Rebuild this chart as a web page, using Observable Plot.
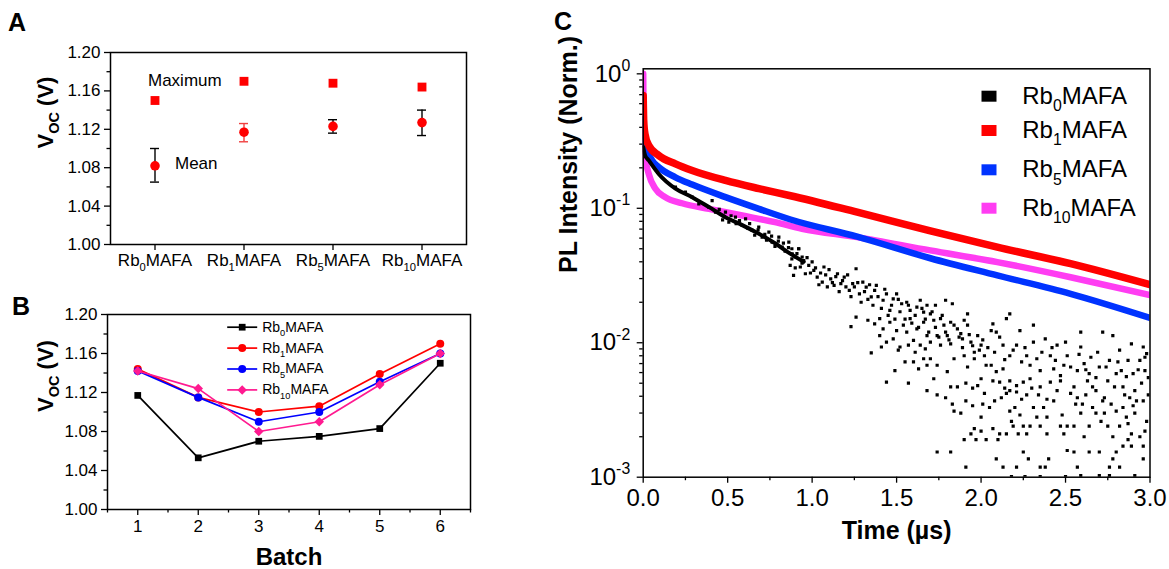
<!DOCTYPE html>
<html><head><meta charset="utf-8">
<script src="https://cdn.jsdelivr.net/npm/d3@7"></script>
<script src="https://cdn.jsdelivr.net/npm/@observablehq/plot@0.6"></script>
<style>
body{margin:0;background:#fff;}
#fig{position:relative;width:1169px;height:569px;overflow:hidden;font-family:"Liberation Sans",Arial,sans-serif;background:#fff;}
#fig svg{position:absolute;}
.letter{position:absolute;font-weight:bold;font-size:25px;line-height:25px;color:#000;}
</style></head><body><div id="fig"></div>
<script>
// ---------- data ----------
const samples = ["Rb0MAFA","Rb1MAFA","Rb5MAFA","Rb10MAFA"];
const vocMax  = [1.150, 1.170, 1.168, 1.164];
const vocMean = [1.082, 1.117, 1.123, 1.127];
const vocLow  = [1.065, 1.107, 1.116, 1.1135];
const vocHigh = [1.100, 1.126, 1.130, 1.140];
const vocTicks = [1.00, 1.04, 1.08, 1.12, 1.16, 1.20];
const vocMinor = [1.02, 1.06, 1.10, 1.14, 1.18];

const batches = [1, 2, 3, 4, 5, 6];
const batchMinor = [0.5, 1.5, 2.5, 3.5, 4.5, 5.5, 6.5];
const vocBatchRb0  = [1.117, 1.053, 1.070, 1.075, 1.083, 1.150];
const vocBatchRb1  = [1.144, 1.115, 1.100, 1.106, 1.139, 1.170];
const vocBatchRb5  = [1.142, 1.115, 1.090, 1.100, 1.131, 1.160];
const vocBatchRb10 = [1.142, 1.124, 1.080, 1.090, 1.128, 1.160];

const timeTicks = [0, 0.5, 1.0, 1.5, 2.0, 2.5, 3.0];
const timeMinor = [0.25, 0.75, 1.25, 1.75, 2.25, 2.75];
const plTicks = [0.001, 0.01, 0.1, 1];

// PL decays [time (µs), normalized intensity]
const plRb1 = [[0,0.69],[0.003,0.45],[0.01,0.36],[0.033,0.293],[0.092,0.247],[0.191,0.214],[0.29,0.191],[0.487,0.161],[0.685,0.140],[0.872,0.124],[1.267,0.0935],[1.70,0.068],[2.096,0.0514],[2.53,0.0387],[3.0,0.027]];
const plRb5 = [[0,0.46],[0.004,0.319],[0.053,0.227],[0.092,0.202],[0.191,0.170],[0.29,0.150],[0.487,0.121],[0.685,0.099],[0.872,0.0825],[1.267,0.0615],[1.70,0.0425],[2.096,0.0317],[2.53,0.0231],[3.0,0.0153]];
const plRb10 = [[0,1.0],[0.002,0.5],[0.008,0.26],[0.033,0.18],[0.072,0.14],[0.13,0.121],[0.23,0.109],[0.39,0.099],[0.586,0.0884],[0.78,0.0788],[0.94,0.0705],[1.267,0.061],[1.70,0.0486],[2.096,0.0398],[2.53,0.0307],[3.0,0.0226]];
const plRb0Band = [[0,0.285],[0.01,0.25],[0.033,0.227],[0.092,0.18],[0.191,0.14],[0.29,0.121],[0.39,0.102],[0.487,0.0859],[0.586,0.075],[0.685,0.0646],[0.78,0.055],[0.87,0.046],[0.95,0.040]];
const plRb0Dots = [
 [0.487,0.0936],[0.507,0.0789],[0.546,0.0859],[0.586,0.0745],[0.606,0.0835],[0.645,0.0684],[0.684,0.0724],[0.704,0.061],[0.744,0.0665],[0.763,0.056],[0.803,0.061],[0.823,0.0514],[0.862,0.056],[0.882,0.0459],[0.921,0.050],[0.941,0.0434],[0.388,0.102],[0.408,0.114],[0.428,0.0936],[0.29,0.121],[0.329,0.108],[0.191,0.144],[0.25,0.132],
 [0.45,0.098],[0.47,0.082],[0.52,0.088],[0.55,0.077],[0.57,0.081],[0.62,0.071],[0.63,0.077],[0.66,0.063],[0.68,0.069],[0.72,0.064],[0.73,0.058],[0.76,0.062],[0.78,0.052],[0.80,0.057],[0.83,0.055],[0.84,0.048],[0.86,0.051],[0.88,0.042],
 [0.88,0.050],[0.92,0.050],[0.90,0.0434],[0.95,0.0409],[0.87,0.0376],[0.93,0.0366],[0.98,0.0376],[0.89,0.0317],[0.96,0.0326],[1.01,0.0345],[1.03,0.0308],[1.07,0.0366],[1.06,0.0282],[1.11,0.0299],[1.15,0.0326],[1.13,0.0267],[1.17,0.0275],[1.19,0.0308],[1.22,0.0245],[1.26,0.0355],[1.24,0.0275],[1.28,0.0231],[1.30,0.0282],[1.32,0.0259],[1.35,0.0219],[1.37,0.0245],[1.38,0.0267],[1.42,0.0207],[1.44,0.0231],[1.46,0.0174],[1.48,0.0212],[1.50,0.0231],[1.53,0.0195],[1.56,0.0200],[1.58,0.0174],[1.62,0.0184],[1.64,0.0207],[1.66,0.0169],[1.68,0.0190],[1.70,0.0164],
 [0.90,0.036],[0.91,0.046],[0.94,0.039],[0.97,0.043],[0.99,0.033],[1.00,0.040],[1.02,0.036],[1.04,0.027],[1.05,0.033],[1.08,0.032],[1.09,0.026],[1.10,0.035],[1.12,0.028],[1.14,0.031],[1.16,0.024],[1.18,0.029],[1.20,0.026],[1.21,0.032],[1.23,0.022],[1.25,0.026],[1.27,0.028],[1.29,0.020],[1.31,0.024],[1.33,0.021],[1.34,0.027],[1.36,0.019],[1.39,0.022],[1.41,0.018],[1.43,0.025],[1.45,0.016],[1.47,0.019],[1.49,0.015],[1.51,0.021],[1.52,0.017],[1.55,0.015],[1.57,0.019],[1.59,0.014],[1.61,0.016],[1.63,0.013],[1.65,0.018],[1.67,0.015],[1.69,0.012],[1.71,0.017],[1.73,0.013],[1.75,0.011],[1.77,0.016],[1.79,0.012],[1.81,0.0105],[1.84,0.0135],[1.87,0.011],[1.89,0.0092],[1.93,0.0115],[1.95,0.0095],[1.99,0.0088],[2.01,0.0105],[2.04,0.0092],[2.08,0.0085],[2.11,0.011],[2.14,0.0075],[2.19,0.0088],[2.24,0.0072],[2.26,0.0092],[2.36,0.0085],[2.42,0.0092],[2.44,0.0074],[2.53,0.0066],[2.58,0.0082],[2.62,0.0063],[2.69,0.0085],[2.74,0.0066],[2.81,0.0072],[2.86,0.0056],[2.93,0.0063],[2.98,0.0083],
 [1.23,0.0132],[1.26,0.0155],[1.33,0.0147],[1.37,0.0138],[1.40,0.0151],[1.42,0.0127],[1.46,0.0142],[1.50,0.0123],[1.54,0.0135],[1.58,0.0151],[1.62,0.0127],[1.66,0.0142],[1.68,0.0113],[1.40,0.0113],[1.44,0.0101],[1.48,0.0107],[1.52,0.0093],[1.56,0.0120],[1.60,0.0104],[1.64,0.0096],[1.67,0.0090],[1.35,0.0084],[1.41,0.0093],[1.51,0.0088],[1.57,0.0096],[1.61,0.0085],[1.66,0.0076],[1.55,0.0072],[1.60,0.0072],[1.63,0.0064],[1.68,0.0068],[1.49,0.0062],[1.44,0.0051],[1.57,0.0050],[1.68,0.0044],
 [1.73,0.019],[1.79,0.0207],[1.83,0.0195],[1.92,0.0164],[2.17,0.0164],
 [1.72,0.0147],[1.76,0.0151],[1.78,0.0135],[1.82,0.0142],[1.86,0.0127],[1.90,0.0147],[1.92,0.0135],[1.88,0.0117],[1.80,0.0113],[1.74,0.0113],[1.70,0.0101],[1.76,0.0096],[1.82,0.0098],[1.89,0.0107],[1.94,0.0101],[1.98,0.0113],[2.00,0.0096],[1.96,0.0085],[2.02,0.0080],[2.06,0.0123],[2.09,0.0120],[2.13,0.0096],[2.06,0.0068],[2.03,0.0068],[2.09,0.0061],[2.13,0.0064],[2.17,0.0080],[2.21,0.0096],[2.23,0.0123],[2.27,0.0080],[2.29,0.0068],[2.31,0.0101],[2.33,0.0076],[2.35,0.0062],[2.38,0.0107],[2.41,0.0080],[2.43,0.0064],[2.45,0.0096],[2.47,0.0057],[2.49,0.0068],[2.51,0.0080],[2.50,0.0101],[2.31,0.0135],[2.15,0.0151],[2.07,0.0138],
 [1.70,0.0076],[1.74,0.0068],[1.80,0.0061],[1.84,0.0076],[1.92,0.0066],[1.96,0.0076],[1.90,0.0080],[1.72,0.0054],[1.82,0.0047],[1.86,0.0047],[1.91,0.0050],[1.98,0.0048],[2.00,0.0054],[2.07,0.0052],[2.11,0.0051],[2.17,0.0052],[2.21,0.0048],[2.25,0.0051],[2.29,0.0054],[2.35,0.0047],[2.41,0.0051],[2.47,0.0052],
 [1.74,0.0041],[1.79,0.0039],[1.83,0.0035],[1.91,0.0037],[1.95,0.0034],[2.01,0.0035],[2.05,0.0033],[2.17,0.0044],[2.12,0.0039],[2.15,0.0042],[2.21,0.0043],[2.27,0.0041],[2.34,0.0041],[2.39,0.0038],[2.45,0.0044],[1.84,0.0031],[1.88,0.0030],[2.00,0.0028],[2.17,0.0031],[2.23,0.0029],[2.31,0.0033],[2.33,0.0028],[2.39,0.0028],[2.48,0.0029],[2.51,0.0024],
 [1.95,0.0046],[2.02,0.0042],[2.08,0.0037],[2.14,0.0046],[2.20,0.0033],[2.24,0.0038],[2.30,0.0046],[2.37,0.0033],[2.43,0.0037],[2.53,0.0042],[2.56,0.0035],[2.62,0.0041],[2.68,0.0044],[2.73,0.0030],[2.77,0.0035],[2.85,0.0041],[2.92,0.0037],[2.99,0.0041],
 [1.74,0.00154],[1.82,0.00154],[1.94,0.0021],[2.00,0.0022],[1.96,0.0023],[2.07,0.0023],[2.11,0.0021],[1.90,0.0019],[1.97,0.0019],[2.03,0.0019],[2.10,0.0019],[2.18,0.0026],[2.19,0.0024],[2.25,0.0024],[2.29,0.0024],[2.35,0.0024],[2.47,0.0024],[2.15,0.0021],[2.22,0.0021],[2.27,0.0021],[2.39,0.0021],[2.49,0.0021],
 [1.91,0.00119],[2.09,0.00137],[2.13,0.00119],[2.21,0.00119],[2.25,0.00154],[2.28,0.00137],[2.35,0.00119],[2.38,0.00119],[2.40,0.00137],[2.51,0.00158],[2.18,0.00101],[2.26,0.00101],[2.35,0.00101],[2.50,0.00101],
 [2.55,0.0047],[2.59,0.0120],[2.61,0.0070],[2.64,0.0059],[2.66,0.0047],[2.68,0.0055],[2.72,0.0120],[2.73,0.0039],[2.75,0.0052],[2.78,0.0113],[2.80,0.0059],[2.82,0.0088],[2.84,0.0047],[2.87,0.0074],[2.89,0.0098],[2.91,0.0044],[2.94,0.0074],[2.96,0.0093],[2.97,0.0062],[2.99,0.0055],[2.59,0.0093],[2.65,0.0078],[2.70,0.0066],[2.76,0.0074],[2.83,0.0062],[2.90,0.0059],[2.95,0.0050],[2.57,0.0062],[2.63,0.0052],[2.79,0.0047],[2.88,0.0039],[2.97,0.0078],
 [2.55,0.0024],[2.57,0.0039],[2.59,0.0030],[2.61,0.0020],[2.64,0.0024],[2.68,0.0030],[2.72,0.0037],[2.75,0.0024],[2.78,0.0020],[2.82,0.0024],[2.84,0.0033],[2.87,0.0025],[2.89,0.0021],[2.91,0.0030],[2.94,0.0020],[2.96,0.0037],[2.98,0.0026],[2.60,0.0035],[2.66,0.0033],[2.71,0.0026],[2.80,0.0031],[2.86,0.0028],[2.90,0.0034],[2.97,0.0022],
 [2.55,0.00154],[2.64,0.00154],[2.70,0.00154],[2.80,0.00154],[2.78,0.00137],[2.96,0.00137],[2.57,0.00119],[2.76,0.00119],[2.70,0.00103],[2.76,0.00103],[2.91,0.00103],[2.84,0.0017],[2.89,0.0017],[2.87,0.0019],[2.82,0.00119],[2.59,0.00103],[2.96,0.0017]
];

// ---------- helpers ----------
const NS = "http://www.w3.org/2000/svg";
const FONT = '"Liberation Sans", Arial, Helvetica, sans-serif';
const rb = s => s.replace(/Rb(\d+)/, "Rb_{$1}");
const baseStyle = {fontFamily: FONT, fontSize: "17px", color: "#000", background: "transparent", overflow: "visible"};

function richify(root) {
  root.querySelectorAll("text").forEach(t => {
    const ts = t.querySelectorAll("tspan");
    const targets = ts.length ? [...ts] : [t];
    for (const el of targets) {
      const s = el.textContent;
      if (!/[_^]\{/.test(s)) continue;
      const fs = parseFloat(getComputedStyle(el).fontSize);
      while (el.firstChild) el.removeChild(el.firstChild);
      const re = /([_^])\{([^}]*)\}/g;
      let last = 0, m, cur = 0;
      const add = (str, kind) => {
        if (!str) return;
        const sp = document.createElementNS(NS, "tspan");
        sp.textContent = str;
        const target = kind === "_" ? 0.3 * fs : kind === "^" ? -0.45 * fs : 0;
        if (target !== cur) { sp.setAttribute("dy", (target - cur).toFixed(2)); cur = target; }
        if (kind) sp.setAttribute("font-size", (0.66 * fs).toFixed(2));
        el.appendChild(sp);
      };
      while ((m = re.exec(s))) { add(s.slice(last, m.index), null); add(m[2], m[1]); last = re.lastIndex; }
      add(s.slice(last), null);
    }
  });
}
const lineSym = {draw(ctx) { ctx.moveTo(-15, 0); ctx.lineTo(15, 0); }};
const rectSym = {draw(ctx) { ctx.rect(-7.5, -5.5, 15, 11); }};

const fig = document.getElementById("fig");
function place(svg, left, top) { svg.style.left = left + "px"; svg.style.top = top + "px"; fig.appendChild(svg); richify(svg); }

// ---------- Panel A ----------
const tableA = samples.map((s, i) => ({s, max: vocMax[i], mean: vocMean[i], lo: vocLow[i], hi: vocHigh[i]}));
const errStroke = {Rb0MAFA: "#000000", Rb1MAFA: "#f04040", Rb5MAFA: "#000000", Rb10MAFA: "#000000"};
const annotations = [{s: "Rb0MAFA", v: 1.1708, label: "Maximum", dx: -7}, {s: "Rb0MAFA", v: 1.0844, label: "Mean", dx: 20}];
const plotA = Plot.plot({
  width: 480, height: 280, marginLeft: 110, marginRight: 14, marginTop: 52, marginBottom: 36,
  style: baseStyle,
  x: {type: "band", domain: samples, padding: 0, axis: null},
  y: {domain: [1.0, 1.2], axis: null},
  marks: [
    Plot.axisY({ticks: vocTicks, tickFormat: d3.format(".2f"), tickSize: 6, tickPadding: 4, fontSize: 17, strokeWidth: 1.3, label: null}),
    Plot.axisY({ticks: vocMinor, tickFormat: () => "", tickSize: 3.5, strokeWidth: 1.3, label: null}),
    Plot.axisX({tickFormat: rb, tickSize: 6, tickPadding: 3, fontSize: 17, strokeWidth: 1.3, label: null}),
    Plot.ruleX(tableA, {x: "s", y1: "lo", y2: "hi", stroke: d => errStroke[d.s], strokeWidth: 1.4}),
    Plot.tickY(tableA, {x: "s", y: "lo", stroke: d => errStroke[d.s], strokeWidth: 1.4, insetLeft: 40, insetRight: 40}),
    Plot.tickY(tableA, {x: "s", y: "hi", stroke: d => errStroke[d.s], strokeWidth: 1.4, insetLeft: 40, insetRight: 40}),
    Plot.dot(tableA, {x: "s", y: "mean", r: 4.8, fill: "#ff0000"}),
    Plot.dot(tableA, {x: "s", y: "max", symbol: "square", r: 5, fill: "#ff0000"}),
    ...annotations.map(a => Plot.text([a], {x: "s", y: "v", text: "label", dx: a.dx, textAnchor: "start", fontSize: 17})),
    Plot.text(["V_{OC} (V)"], {frameAnchor: "left", lineAnchor: "middle", text: d => d, rotate: -90, dx: -65, fontSize: 22, fontWeight: "bold"}),
    Plot.frame({stroke: "#000", strokeWidth: 1.5})
  ]
});
place(plotA, 0, 0);

// ---------- Panel B ----------
const seriesB = [
  {s: "Rb0MAFA", values: vocBatchRb0, color: "#000000", symbol: "square", r: 3.8},
  {s: "Rb1MAFA", values: vocBatchRb1, color: "#ff0000", symbol: "circle", r: 4},
  {s: "Rb5MAFA", values: vocBatchRb5, color: "#0000ff", symbol: "circle", r: 4},
  {s: "Rb10MAFA", values: vocBatchRb10, color: "#ff1a90", symbol: "diamond2", r: 4.3}
];
const marksB = [];
seriesB.forEach((ser, i) => {
  const rows = batches.map((b, j) => ({batch: b, voc: ser.values[j]}));
  marksB.push(Plot.line(rows, {x: "batch", y: "voc", stroke: ser.color, strokeWidth: 1.7}));
  marksB.push(Plot.dot(rows, {x: "batch", y: "voc", symbol: ser.symbol, r: ser.r, fill: ser.color}));
  const dy = 12.7 + i * 20.9;
  marksB.push(Plot.dot([0], {frameAnchor: "top-left", dx: 134.7, dy, symbol: lineSym, fill: "none", stroke: ser.color, strokeWidth: 1.7}));
  marksB.push(Plot.dot([0], {frameAnchor: "top-left", dx: 134.7, dy, symbol: ser.symbol, r: ser.r, fill: ser.color}));
  marksB.push(Plot.text([rb(ser.s)], {frameAnchor: "top-left", lineAnchor: "middle", text: d => d, dx: 154.7, dy, textAnchor: "start", fontSize: 14}));
});
const plotB = Plot.plot({
  width: 480, height: 279, marginLeft: 107, marginRight: 10, marginTop: 24, marginBottom: 60,
  style: baseStyle,
  x: {domain: [0.5, 6.5], axis: null},
  y: {domain: [1.0, 1.2], axis: null},
  marks: [
    Plot.axisY({ticks: vocTicks, tickFormat: d3.format(".2f"), tickSize: 6, tickPadding: 4, fontSize: 17, strokeWidth: 1.3, label: null}),
    Plot.axisY({ticks: vocMinor, tickFormat: () => "", tickSize: 3.5, strokeWidth: 1.3, label: null}),
    Plot.axisX({ticks: batches, tickFormat: d3.format("d"), tickSize: 6, tickPadding: 4, fontSize: 17, strokeWidth: 1.3, label: null}),
    Plot.axisX({ticks: batchMinor, tickFormat: () => "", tickSize: 3.5, strokeWidth: 1.3, label: null}),
    ...marksB,
    Plot.text(["V_{OC} (V)"], {frameAnchor: "left", lineAnchor: "middle", text: d => d, rotate: -90, dx: -62, fontSize: 22, fontWeight: "bold"}),
    Plot.text(["Batch"], {frameAnchor: "bottom", lineAnchor: "middle", text: d => d, dy: 48, fontSize: 24, fontWeight: "bold"}),
    Plot.frame({stroke: "#000", strokeWidth: 1.5})
  ]
});
place(plotB, 0, 290);

// ---------- Panel C ----------
const seriesC = [
  {s: "Rb0MAFA", color: "#000000"},
  {s: "Rb1MAFA", color: "#ff0000"},
  {s: "Rb5MAFA", color: "#0033ff"},
  {s: "Rb10MAFA", color: "#ff3df2"}
];
const legendDy = [27.4, 61.7, 101, 139.4];
const logMinor = [];
for (let k = -3; k < 0; k++) for (let m = 2; m <= 9; m++) logMinor.push(m * Math.pow(10, k));
const px = d => d[0], py = d => d[1];
const plotC = Plot.plot({
  width: 629, height: 569, marginLeft: 102.7, marginRight: 19.5, marginTop: 68.3, marginBottom: 92.3,
  style: {...baseStyle, fontSize: "24px"},
  x: {domain: [0, 3], axis: null},
  y: {type: "log", domain: [1e-3, 1.09], axis: null},
  marks: [
    Plot.axisY({ticks: plTicks, tickFormat: d => "10^{" + Math.round(Math.log10(d)) + "}", tickSize: 6, tickPadding: 7, fontSize: 24, strokeWidth: 1.3, label: null}),
    Plot.axisY({ticks: logMinor, tickFormat: () => "", tickSize: 3.5, strokeWidth: 1.3, label: null}),
    Plot.axisX({ticks: timeTicks, tickFormat: d3.format(".1f"), tickSize: 6, tickPadding: 6, fontSize: 24, strokeWidth: 1.3, label: null}),
    Plot.axisX({ticks: timeMinor, tickFormat: () => "", tickSize: 3.5, strokeWidth: 1.3, label: null}),
    Plot.line(plRb10, {x: px, y: py, stroke: seriesC[3].color, strokeWidth: 6.5, curve: "monotone-x", clip: true}),
    Plot.line(plRb5, {x: px, y: py, stroke: seriesC[2].color, strokeWidth: 6.5, curve: "monotone-x", clip: true}),
    Plot.line(plRb1, {x: px, y: py, stroke: seriesC[1].color, strokeWidth: 7.5, curve: "monotone-x", clip: true}),
    Plot.line(plRb0Band, {x: px, y: py, stroke: "#000", strokeWidth: 4, curve: "monotone-x", clip: true}),
    Plot.dot(plRb0Dots, {x: px, y: py, symbol: "square", r: 1.8, fill: "#000", clip: true}),
    ...seriesC.map((ser, i) => Plot.dot([0], {frameAnchor: "top-left", dx: 345.8, dy: legendDy[i], symbol: rectSym, fill: ser.color})),
    ...seriesC.map((ser, i) => Plot.text([rb(ser.s)], {frameAnchor: "top-left", lineAnchor: "middle", text: d => d, dx: 379, dy: legendDy[i], textAnchor: "start", fontSize: 24})),
    Plot.text(["PL Intensity (Norm.)"], {frameAnchor: "left", lineAnchor: "middle", text: d => d, rotate: -90, dx: -74, fontSize: 25, fontWeight: "bold"}),
    Plot.text(["Time (\u00b5s)"], {frameAnchor: "bottom", lineAnchor: "middle", text: d => d, dy: 54, fontSize: 25, fontWeight: "bold"}),
    Plot.frame({stroke: "#000", strokeWidth: 1.5})
  ]
});
place(plotC, 540, 0);

// ---------- panel letters ----------
[["A", 8, 10], ["B", 12, 294], ["C", 554, 9]].forEach(([t, l, tp]) => {
  const d = document.createElement("div");
  d.className = "letter"; d.textContent = t; d.style.left = l + "px"; d.style.top = tp + "px";
  fig.appendChild(d);
});
</script></body></html>
